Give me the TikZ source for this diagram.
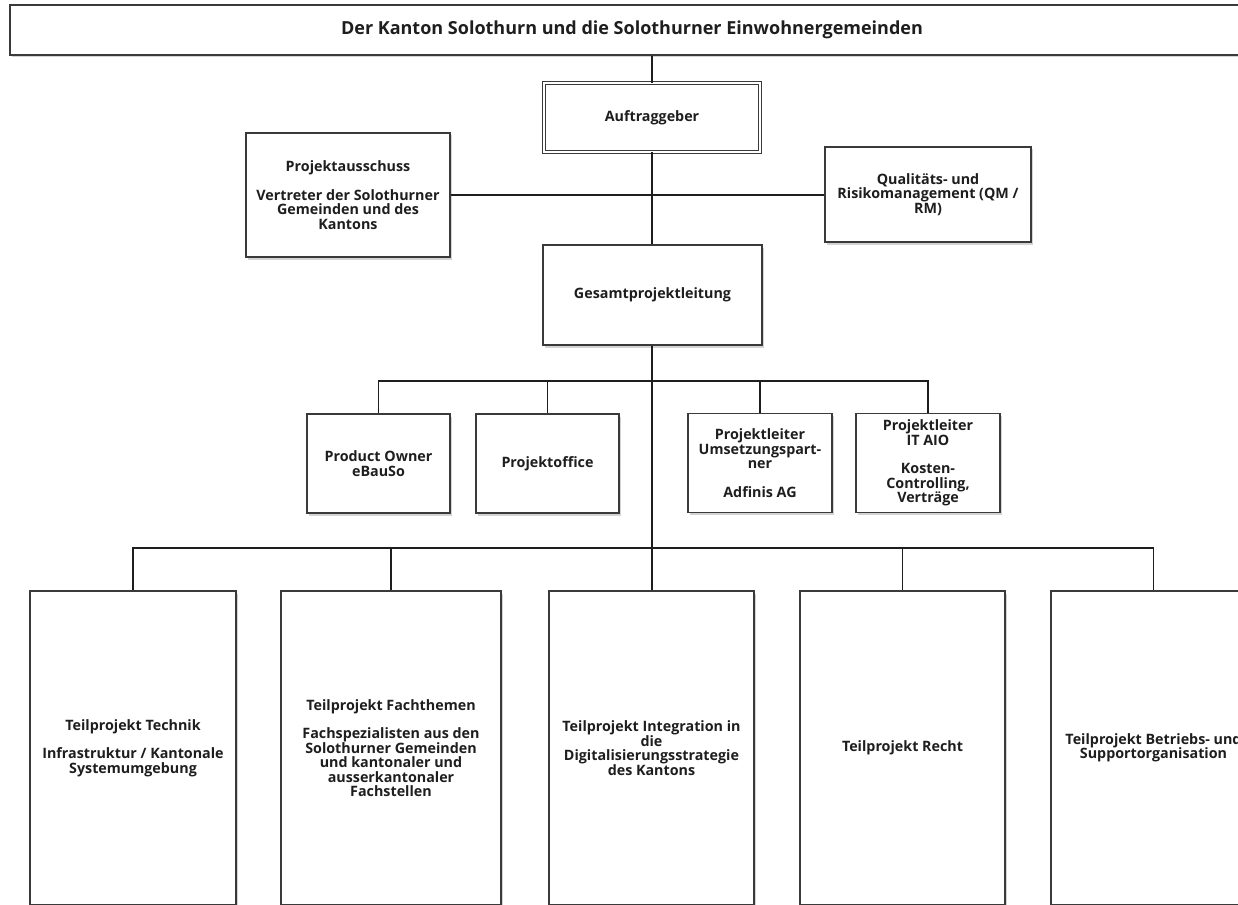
\documentclass[tikz,border=0pt]{standalone}
\usepackage{fontspec}
\setmainfont{Open Sans}
\usepackage{xcolor}
\usepackage{tikz}
\usetikzlibrary{shapes,shadows,positioning}
\definecolor{inkgray}{HTML}{1E1E1E}
\definecolor{framegray}{HTML}{3A3A3A}
\tikzstyle{box} = [rectangle, draw=framegray, line width=1.1pt, fill=white,
    align=center, text=inkgray, inner sep=2pt,
    font=\bfseries\fontsize{14.3}{14.5}\selectfont,
    drop shadow={shadow xshift=2pt, shadow yshift=-2.5pt, opacity=0.35}]
\tikzstyle{box_double} = [box, double, double distance=2.2pt, line width=0.8pt]
\tikzstyle{box_title} = [box, font=\bfseries\fontsize{18}{20}\selectfont]
\tikzstyle{link} = [draw=inkgray, line width=1.6pt]

\begin{document}
\begin{tikzpicture}[x=1pt, y=-1pt]
    \useasboundingbox (0,0) rectangle (1238,904);
    \clip (0,0) rectangle (1238,904);
    % Place nodes
    \node [box_title, minimum width=1244pt, minimum height=50pt] (kanton) at (632,30)
        {Der Kanton Solothurn und die Solothurner Einwohnergemeinden};
    \node [box_double, minimum width=216pt, minimum height=69pt] (auftrag) at (652,117.5)
        {Auftraggeber};
    \node [box, minimum width=204pt, minimum height=124pt] (ausschuss) at (348,195)
        {Projektausschuss\\[14pt]Vertreter der Solothurner\\Gemeinden und des\\Kantons};
    \node [box, minimum width=206pt, minimum height=95pt] (qmrm) at (928,194.5)
        {Qualitäts- und\\Risikomanagement (QM /\\RM)};
    \node [box, minimum width=219pt, minimum height=100pt] (gpl) at (652.5,295)
        {Gesamtprojektleitung};
    \node [box, minimum width=143pt, minimum height=99pt] (owner) at (378.5,463.5)
        {Product Owner\\eBauSo};
    \node [box, minimum width=143pt, minimum height=99pt] (office) at (547.5,463.5)
        {Projektoffice};
    \node [box, minimum width=144pt, minimum height=99pt] (plpartner) at (760,463)
        {Projektleiter\\Umsetzungspart-\\ner\\[14pt]Adfinis AG};
    \node [box, minimum width=144pt, minimum height=99pt] (plaio) at (928,463)
        {Projektleiter\\IT AIO\\[14pt]Kosten-\\Controlling,\\Verträge};
    \node [box, minimum width=206pt, minimum height=314pt] (tptechnik) at (133,748)
        {Teilprojekt Technik\\[14pt]Infrastruktur / Kantonale\\Systemumgebung};
    \node [box, minimum width=220pt, minimum height=314pt] (tpfach) at (391,748)
        {Teilprojekt Fachthemen\\[14pt]Fachspezialisten aus den\\Solothurner Gemeinden\\und kantonaler und\\ausserkantonaler\\Fachstellen};
    \node [box, minimum width=205pt, minimum height=314pt] (tpintegration) at (651.5,748)
        {Teilprojekt Integration in\\die\\Digitalisierungsstrategie\\des Kantons};
    \node [box, minimum width=205pt, minimum height=314pt] (tprecht) at (902.5,748)
        {Teilprojekt Recht};
    \node [box, minimum width=205pt, minimum height=314pt] (tpbetrieb) at (1153.5,748)
        {Teilprojekt Betriebs- und\\Supportorganisation};
    \coordinate (busmid) at (652,381);
    \coordinate (buslow) at (652,548);
    % Draw edges
    \path [link] (auftrag.north) -- (auftrag.north |- kanton.south);
    \path [link] (auftrag.south) -- (auftrag.south |- gpl.north);
    \path [link] (ausschuss.east) -- (ausschuss.east -| qmrm.west);
    \path [link] (gpl.south -| busmid) -- (busmid) -| (owner.north);
    \path [link] (gpl.south -| busmid) -- (busmid) -| (office.north);
    \path [link] (gpl.south -| busmid) -- (busmid) -| (plpartner.north);
    \path [link] (gpl.south -| busmid) -- (busmid) -| (plaio.north);
    \path [link] (gpl.south -| buslow) -- (buslow) -| (tptechnik.north);
    \path [link] (gpl.south -| buslow) -- (buslow) -| (tpfach.north);
    \path [link] (gpl.south -| buslow) -- (buslow) -- (tpintegration.north -| buslow);
    \path [link] (gpl.south -| buslow) -- (buslow) -| (tprecht.north);
    \path [link] (gpl.south -| buslow) -- (buslow) -| (tpbetrieb.north);
\end{tikzpicture}
\end{document}
